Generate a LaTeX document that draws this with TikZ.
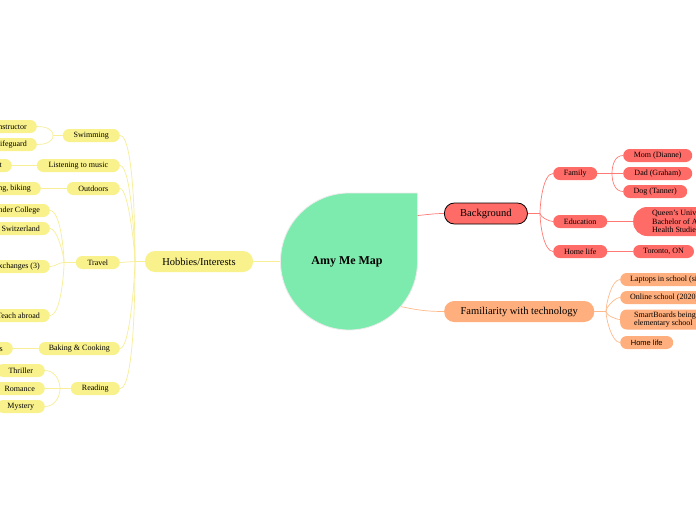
\documentclass[tikz,border=0pt]{standalone}
\usepackage{fontspec}
\setmainfont{Liberation Serif}
\setsansfont{Liberation Sans}
\usetikzlibrary{calc}

\definecolor{rootgreen}{HTML}{7EEBAE}
\definecolor{hobfill}{HTML}{F9F18C}
\definecolor{hobline}{HTML}{F7EE96}
\definecolor{bgfill}{HTML}{FF6B66}
\definecolor{bgline}{HTML}{FF7A74}
\definecolor{techfill}{HTML}{FFAF7D}
\definecolor{techline}{HTML}{FFBA8C}

\tikzset{
  topic/.style={rounded corners=10pt, minimum height=21pt, inner sep=0pt,
    font=\fontsize{10.5}{12}\selectfont},
  sub/.style={rounded corners=6.5pt, minimum height=13pt, inner xsep=10pt, inner ysep=1pt,
    font=\fontsize{8}{8.4}\selectfont},
  yel/.style={fill=hobfill},
  red/.style={fill=bgfill},
  org/.style={fill=techfill},
  yline/.style={draw=hobline, line width=0.7pt},
  rline/.style={draw=bgline, line width=0.7pt},
  oline/.style={draw=techline, line width=0.7pt}
}

\begin{document}
\begin{tikzpicture}[x=1pt, y=1pt]
\useasboundingbox (0,1.5) rectangle (696,-518.5);
\clip (0,1.5) rectangle (696,-518.5);
\fill[white] (0,1.5) rectangle (696,-518.5);

% central topic
\path[fill=rootgreen, draw=gray!15, line width=0.8pt] (417.5,-191.5) -- (417.5,-260)
  arc[start angle=0, end angle=-270, radius=68.5] -- cycle;
\node[circle, minimum size=137pt, inner sep=0pt] (root) at (349,-260) {};
\node[font=\fontsize{12}{14}\selectfont\bfseries] (title) at (347,-260) {Amy Me Map};

% left branch
\node[topic, yel, minimum width=108pt] (hob) at (199,-260) {Hobbies/Interests};

\node[sub, yel, anchor=east, minimum width=57pt] (swim) at (120,-134) {Swimming};
\node[sub, yel, anchor=east, minimum width=83pt] (music) at (120,-164) {Listening to music};
\node[sub, yel, anchor=east, minimum width=53pt] (outd) at (120,-187) {Outdoors};
\node[sub, yel, anchor=east, minimum width=44pt] (trav) at (120,-261) {Travel};
\node[sub, yel, anchor=east, minimum width=81pt] (bake) at (120,-347) {Baking \& Cooking};
\node[sub, yel, anchor=east, minimum width=49pt] (read) at (120,-387) {Reading};

\node[sub, yel, anchor=east] (instr) at (37,-125) {Swim instructor};
\node[sub, yel, anchor=east] (guard) at (37,-143) {Lifeguard};
\node[sub, yel, anchor=east] (playl) at (12,-164) {Playlist};
\node[sub, yel, anchor=east] (hike) at (41,-187) {Hiking, biking};
\node[sub, yel, anchor=east] (college) at (50,-209) {Alexander College};
\node[sub, yel, anchor=east] (swiss) at (50,-227) {Switzerland};
\node[sub, yel, anchor=east] (exch) at (50,-265) {School exchanges (3)};
\node[sub, yel, anchor=east] (abroad) at (50,-314) {Teach abroad};
\node[sub, yel, anchor=east] (dessert) at (13,-347) {Desserts};
\node[sub, yel, anchor=east, minimum width=48pt] (thrill) at (45,-369) {Thriller};
\node[sub, yel, anchor=east, minimum width=48pt] (roman) at (45,-387) {Romance};
\node[sub, yel, anchor=east, minimum width=48pt] (myst) at (45,-405) {Mystery};

\coordinate (hj) at (135,-260);
\coordinate (swj) at (53,-134);
\coordinate (trj) at (64,-261);
\coordinate (rdj) at (60,-387);

\draw[yline] (root.west) -- (hob.east);
\draw[yline] (hob.west) -- (hj) -- (trav.east);
\draw[yline] (swim.east) to[out=0, in=90, looseness=.3] (hj);
\draw[yline] (music.east) to[out=0, in=90, looseness=.3] (hj);
\draw[yline] (outd.east) to[out=0, in=90, looseness=.3] (hj);
\draw[yline] (bake.east) to[out=0, in=-90, looseness=.3] (hj);
\draw[yline] (read.east) to[out=0, in=-90, looseness=.3] (hj);

\draw[yline] (swim.west) -- (swj);
\draw[yline] (instr.east) to[out=0, in=90] (swj);
\draw[yline] (guard.east) to[out=0, in=-90] (swj);
\draw[yline] (music.west) -- (playl.east);
\draw[yline] (outd.west) -- (hike.east);
\draw[yline] (trav.west) -- (trj);
\draw[yline] (college.east) to[out=0, in=90, looseness=.5] (trj);
\draw[yline] (swiss.east) to[out=0, in=90, looseness=.5] (trj);
\draw[yline] (exch.east) to[out=0, in=180] (trj);
\draw[yline] (abroad.east) to[out=0, in=-90, looseness=.5] (trj);
\draw[yline] (bake.west) -- (dessert.east);
\draw[yline] (read.west) -- (rdj);
\draw[yline] (thrill.east) to[out=0, in=90] (rdj);
\draw[yline] (roman.east) -- (rdj);
\draw[yline] (myst.east) to[out=0, in=-90] (rdj);

% background branch
\node[topic, red, draw=black, line width=0.8pt, minimum width=83pt, anchor=west] (bg) at (444,-212) {Background};
\node[sub, red, anchor=west, minimum width=44pt] (fam) at (553,-172) {Family};
\node[sub, red, anchor=west, minimum width=54pt] (edu) at (553,-220) {Education};
\node[sub, red, anchor=west, minimum width=54pt] (home) at (553,-250) {Home life};
\node[sub, red, anchor=west, minimum width=69pt] (mom) at (623,-154) {Mom (Dianne)};
\node[sub, red, anchor=west, minimum width=69pt] (dad) at (623,-172) {Dad (Graham)};
\node[sub, red, anchor=west, minimum width=64pt] (dog) at (623,-190) {Dog (Tanner)};
\node[sub, red, anchor=west, rounded corners=14pt, minimum height=29pt, inner xsep=19pt,
  align=left] (queen) at (633,-220) {Queen's University\\Bachelor of Arts\\Health Studies};
\node[sub, red, anchor=west, minimum width=59pt] (toro) at (633,-250) {Toronto, ON};

\coordinate (bgj) at (540,-212);
\coordinate (famj) at (612,-172);

\draw[rline] ($(root.east)+(0,46)$) to[out=5, in=180] (bg.west);
\draw[rline] (bg.east) -- (bgj);
\draw[rline] (bgj) to[out=90, in=180, looseness=.6] (fam.west);
\draw[rline] (bgj) to[out=-90, in=180, looseness=.6] (edu.west);
\draw[rline] (bgj) to[out=-90, in=180, looseness=.6] (home.west);
\draw[rline] (fam.east) -- (famj) -- (dad.west);
\draw[rline] (famj) to[out=90, in=180] (mom.west);
\draw[rline] (famj) to[out=-90, in=180] (dog.west);
\draw[rline] (edu.east) -- (queen.west);
\draw[rline] (home.east) -- (toro.west);

% technology branch
\node[topic, org, minimum width=150pt, anchor=west] (tech) at (444,-310) {Familiarity with technology};
\node[sub, org, anchor=west] (lap) at (620,-278) {Laptops in school (since grade 7)};
\node[sub, org, anchor=west] (online) at (620,-296) {Online school (2020)};
\node[sub, org, anchor=west, minimum height=20pt, inner xsep=14pt, align=left] (smart) at (620,-318)
  {SmartBoards being used in\\elementary school};
\node[sub, org, anchor=west, minimum width=53pt, font=\sffamily\fontsize{7.5}{9}\selectfont] (hl) at (620,-341) {Home life};

\coordinate (tcj) at (606,-310);

\draw[oline] (root.-41) to[out=-12, in=180] (tech.west);
\draw[oline] (tech.east) -- (tcj);
\draw[oline] (tcj) to[out=90, in=180, looseness=.6] (lap.west);
\draw[oline] (tcj) to[out=90, in=180, looseness=.6] (online.west);
\draw[oline] (tcj) to[out=-90, in=180, looseness=.6] (smart.west);
\draw[oline] (tcj) to[out=-90, in=180, looseness=.6] (hl.west);
\end{tikzpicture}
\end{document}
